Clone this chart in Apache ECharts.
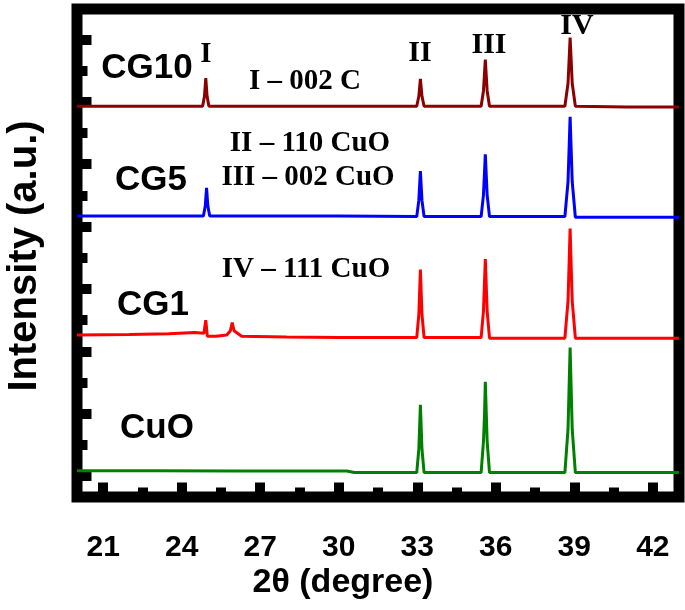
<!DOCTYPE html>
<html>
<head>
<meta charset="utf-8">
<script src="https://cdn.jsdelivr.net/npm/echarts@6/dist/echarts.min.js"></script>
<style>html,body{margin:0;padding:0;background:#fff}#c{width:685px;height:610px}</style>
</head>
<body>
<div id="c"></div>
<script>
// ---- data (2θ in degrees, intensity in arbitrary offset units) ----
const xMajorTicks = [21, 24, 27, 30, 33, 36, 39, 42];
const xMinorTicks = [22.5, 25.5, 28.5, 31.5, 34.5, 37.5, 40.5];
const yMajorTicks = [0, 10, 20, 30, 40, 50, 60, 70];
const yMinorTicks = [5, 15, 25, 35, 45, 55, 65];

const seriesNames = ['CG10', 'CG5', 'CG1', 'CuO'];

const cg10 = [
  [20.0,59.3],[22.0,59.3],[24.0,59.3],[24.80,59.3],[24.87,60.9],[24.92,63.8],[24.97,60.9],[25.04,59.3],
  [27.0,59.3],[30.0,59.3],[32.98,59.3],[33.06,60.9],[33.12,63.7],[33.18,60.9],[33.26,59.3],
  [35.44,59.3],[35.53,61.8],[35.60,66.8],[35.67,61.8],[35.76,59.3],
  [38.64,59.3],[38.76,63.0],[38.84,70.3],[38.92,63.0],[39.04,59.3],[41.0,59.2],[43.0,59.2]
];
const cg5 = [
  [20.0,41.7],[22.0,41.7],[24.0,41.7],[24.83,41.7],[24.90,43.3],[24.95,46.2],[25.00,43.3],[25.07,41.7],
  [27.0,41.7],[30.0,41.7],[32.98,41.6],[33.06,44.2],[33.12,48.9],[33.18,44.2],[33.26,41.6],
  [35.44,41.6],[35.53,45.1],[35.60,51.6],[35.67,45.1],[35.76,41.6],
  [38.64,41.6],[38.76,47.2],[38.84,57.6],[38.92,47.2],[39.04,41.5],[41.0,41.5],[43.0,41.5]
];
const cg1 = [
  [20.0,22.6],[22.0,22.7],[23.5,22.8],[24.5,23.0],[24.85,22.9],[24.92,25.0],[24.98,22.4],
  [25.3,22.4],[25.72,22.6],[25.86,23.3],[25.93,24.6],[26.0,23.3],[26.29,22.4],
  [28.0,22.3],[30.0,22.2],[32.98,22.2],[33.06,25.9],[33.12,33.1],[33.18,25.9],[33.26,22.2],
  [35.44,22.2],[35.53,26.5],[35.60,34.8],[35.67,26.5],[35.76,22.1],
  [38.64,22.1],[38.76,28.1],[38.84,39.7],[38.92,28.1],[39.04,22.1],[41.0,22.1],[43.0,22.1]
];
const cuo = [
  [20.0,0.85],[23.0,0.85],[26.0,0.8],[29.0,0.8],[30.3,0.8],[30.6,0.55],[32.98,0.55],
  [33.06,4.3],[33.12,11.4],[33.18,4.3],[33.26,0.55],
  [35.44,0.55],[35.53,5.6],[35.57,9.8],[35.60,15.1],[35.67,5.6],[35.76,0.55],
  [38.64,0.55],[38.76,7.5],[38.84,20.6],[38.92,7.5],[39.04,0.55],[41.0,0.55],[43.0,0.55]
];
const seriesData = [cg10, cg5, cg1, cuo];
const seriesColors = ['#8b0000', '#0000ff', '#ff0000', '#008000'];

const xTitle = '2θ (degree)';
const yTitle = 'Intensity (a.u.)';
const peakLabels = ['I', 'II', 'III', 'IV'];
const legendLines = ['I – 002 C', 'II – 110 CuO', 'III – 002 CuO', 'IV – 111 CuO'];

// ---- chart ----
const SANS = '"Liberation Sans", Arial, sans-serif';
const SERIF = '"Liberation Serif", "Times New Roman", serif';
const chart = echarts.init(document.getElementById('c'), null, {renderer: 'canvas'});

function txt(text, x, y, size, family, extra) {
  return Object.assign({
    type: 'text', x: x, y: y, z: 100,
    style: {
      text: text, fill: '#000',
      font: 'bold ' + size + 'px ' + family,
      textAlign: 'center', textVerticalAlign: 'middle'
    }
  }, extra || {});
}

const graphics = [
  txt(seriesNames[0], 147, 68, 35, SANS),
  txt(seriesNames[1], 151, 180, 35, SANS),
  txt(seriesNames[2], 153, 305, 35, SANS),
  txt(seriesNames[3], 157, 428, 35, SANS),
  txt(peakLabels[0], 206, 55, 29, SERIF),
  txt(peakLabels[1], 420, 53, 30, SERIF),
  txt(peakLabels[2], 489, 45, 30, SERIF),
  txt(peakLabels[3], 577, 26, 30, SERIF),
  txt(legendLines[0], 305, 82, 29, SERIF),
  txt(legendLines[1], 310, 144, 29, SERIF),
  txt(legendLines[2], 308, 178, 29, SERIF),
  txt(legendLines[3], 306, 270, 29, SERIF),
  txt(xTitle, 343, 583, 34, SANS),
  txt(yTitle, 25, 256, 40, SANS, {rotation: Math.PI / 2})
];

const tickStyle = {color: '#000', width: 10};
const option = {
  animation: false,
  backgroundColor: '#fff',
  grid: {
    left: 77, right: 6, top: 9, bottom: 113,
    show: true, borderColor: '#000', borderWidth: 11, backgroundColor: 'transparent'
  },
  xAxis: [
    {
      type: 'value', min: 20, max: 43, position: 'bottom',
      axisLine: {show: false, onZero: false}, splitLine: {show: false},
      axisTick: {show: true, inside: true, length: 14.5, customValues: xMajorTicks, lineStyle: tickStyle},
      axisLabel: {show: true, customValues: xMajorTicks, margin: 36,
                  color: '#000', fontSize: 30, fontWeight: 'bold', fontFamily: SANS}
    },
    {
      type: 'value', min: 20, max: 43, position: 'bottom',
      axisLine: {show: false, onZero: false}, splitLine: {show: false}, axisLabel: {show: false},
      axisTick: {show: true, inside: true, length: 9.5, customValues: xMinorTicks, lineStyle: tickStyle}
    }
  ],
  yAxis: [
    {
      type: 'value', min: -3.37, max: 74.9, position: 'left',
      axisLine: {show: false, onZero: false}, splitLine: {show: false}, axisLabel: {show: false},
      axisTick: {show: true, inside: true, length: 14.5, customValues: yMajorTicks, lineStyle: tickStyle}
    },
    {
      type: 'value', min: -3.37, max: 74.9, position: 'left',
      axisLine: {show: false, onZero: false}, splitLine: {show: false}, axisLabel: {show: false},
      axisTick: {show: true, inside: true, length: 10.5, customValues: yMinorTicks, lineStyle: tickStyle}
    }
  ],
  series: seriesNames.map((name, i) => ({
    name: name, type: 'line', data: seriesData[i],
    xAxisIndex: 0, yAxisIndex: 0,
    symbol: 'none', smooth: false, clip: true,
    lineStyle: {color: seriesColors[i], width: 3},
    z: 5
  })),
  graphic: graphics
};
chart.setOption(option);
</script>
</body>
</html>
